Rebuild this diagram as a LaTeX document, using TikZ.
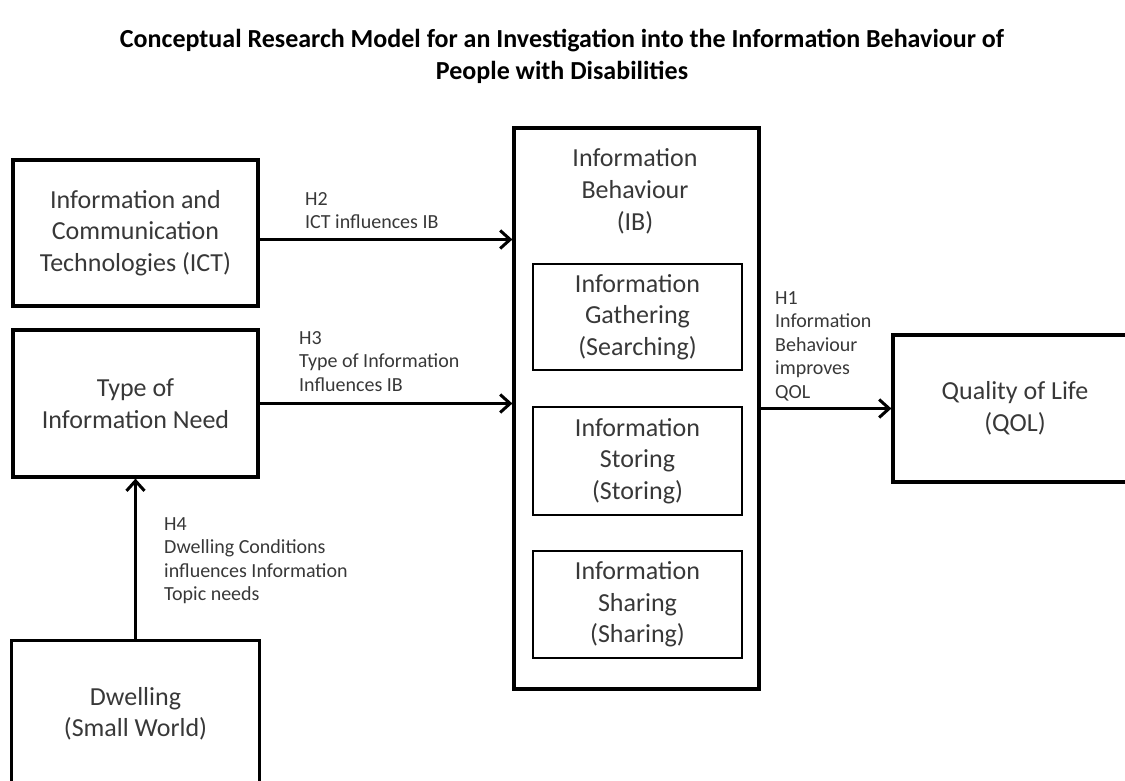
\documentclass[tikz,border=0pt]{standalone}
\usepackage{fontspec}
\setmainfont{Carlito}
\usetikzlibrary{positioning,arrows.meta}

\begin{document}
\begin{tikzpicture}[x=1pt,y=-1pt]
\tikzstyle{every node}+=[inner sep=0pt, text=black!78]
\tikzstyle{box}=[draw=black, line width=3.2pt, align=center, font=\fontsize{26}{31.5}\selectfont]
\tikzstyle{hyp}=[align=left, anchor=north west, font=\fontsize{20}{23.5}\selectfont]
\tikzstyle{link}=[draw=black, line width=3pt, -{Straight Barb[length=10pt,width=18pt]}]
\clip (0,0) rectangle (1125,780);
\node[font=\bfseries\fontsize{26}{32}\selectfont, text=black, align=center] (title) at (562,56)
  {Conceptual Research Model for an Investigation into the Information Behaviour of\\People with Disabilities};
% left column
\node[box, minimum width=245pt, minimum height=146pt] (ict) at (135.5,233)
  {Information and\\Communication\\Technologies (ICT)};
\node[box, minimum width=245pt, minimum height=147pt] (need) at (135.5,403.5)
  {Type of\\Information Need};
\node[box, draw=none, minimum width=245pt, minimum height=144pt] (dwell) at (135.5,714)
  {Dwelling\\(Small World)};
\draw[line width=3.2pt] (dwell.south west) -- (dwell.north west) -- (dwell.north east) -- (dwell.south east);
% information behaviour
\node[box, minimum width=245pt, minimum height=561pt] (ib) at (636.5,408.5) {};
\node[align=center, font=\fontsize{26}{32}\selectfont] (ibtext) at (635,191)
  {Information\\Behaviour\\(IB)};
\node[box, line width=2.6pt, minimum width=209pt, minimum height=106pt] (gather) at (637.5,317)
  {Information\\Gathering\\(Searching)};
\node[box, line width=2.6pt, minimum width=209pt, minimum height=108pt] (store) at (637.5,461)
  {Information\\Storing\\(Storing)};
\node[box, line width=2.6pt, minimum width=209pt, minimum height=107pt] (share) at (637.5,604.5)
  {Information\\Sharing\\(Sharing)};
\node[box, minimum width=244pt, minimum height=147pt] (qol) at (1015,408.5)
  {Quality of Life\\(QOL)};
% hypotheses
\draw[link] ([yshift=-6.5pt]ict.east) -- ([yshift=-6.5pt]ict.east -| ib.west);
\draw[link] (need.east) -- (need.east -| ib.west);
\draw[link] (ib.east) -- (ib.east -| qol.west);
\draw[link] (dwell.north) -- (dwell.north |- need.south);
\node[hyp] (h2) at (305,192) {H2\\ICT influences IB};
\node[hyp] (h3) at (299,331) {H3\\Type of Information\\Influences IB};
\node[hyp] (h1) at (775,291) {H1\\Information\\Behaviour\\improves\\QOL};
\node[hyp] (h4) at (164,517) {H4\\Dwelling Conditions\\influences Information\\Topic needs};
\end{tikzpicture}
\end{document}
